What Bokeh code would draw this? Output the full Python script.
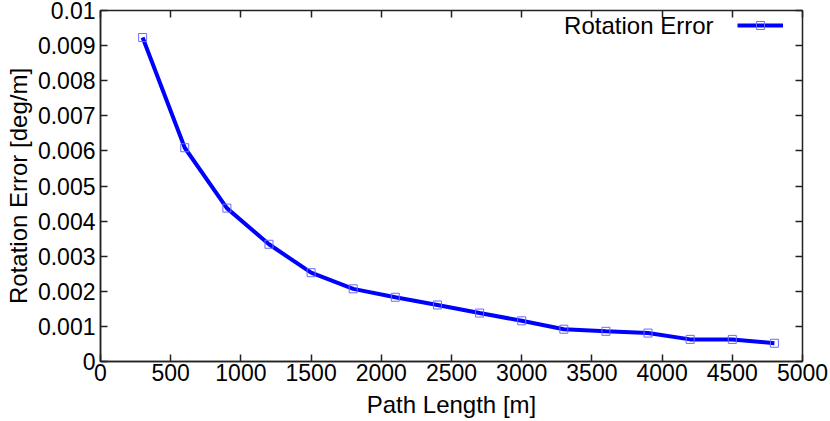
from bokeh.plotting import figure
from bokeh.models import (FixedTicker, CustomJSTickFormatter, LinearAxis, Legend,
                          LegendItem, Label, Range1d)
from bokeh.embed import file_html
from bokeh.resources import INLINE

path_length = [300, 600, 900, 1200, 1500, 1800, 2100, 2400, 2700, 3000,
               3300, 3600, 3900, 4200, 4500, 4800]
rotation_error = [0.00923, 0.00609, 0.00437, 0.00334, 0.00253, 0.00207, 0.00183,
                  0.00161, 0.00138, 0.00116, 0.00092, 0.00086, 0.00081, 0.00063,
                  0.00063, 0.00052]
x_ticks = [0, 500, 1000, 1500, 2000, 2500, 3000, 3500, 4000, 4500, 5000]
y_ticks = [0, 0.001, 0.002, 0.003, 0.004, 0.005, 0.006, 0.007, 0.008, 0.009, 0.01]
series_name = "Rotation Error"
x_label = "Path Length [m]"
y_label = "Rotation Error [deg/m]"

FONT = "Liberation Sans"
FS_TICK = "23px"
FS_LABEL = "24px"

p = figure(width=830, height=421, output_backend="svg", toolbar_location=None,
           x_range=Range1d(0, 5000), y_range=Range1d(0, 0.01),
           min_border_left=100, min_border_right=28, min_border_top=10,
           min_border_bottom=60)
p.background_fill_color = "white"
p.border_fill_color = "white"
p.outline_line_color = "#222222"
p.outline_line_width = 1.5
p.xgrid.visible = False
p.ygrid.visible = False

fmt_y = CustomJSTickFormatter(code="return String(Number(tick.toFixed(3)));")
fmt_blank = CustomJSTickFormatter(code="return '';")

for ax in p.xaxis:
    ax.ticker = FixedTicker(ticks=x_ticks)
    ax.axis_label = x_label
for ax in p.yaxis:
    ax.ticker = FixedTicker(ticks=y_ticks)
    ax.formatter = fmt_y
    ax.axis_label = y_label

for ax in list(p.xaxis) + list(p.yaxis):
    ax.major_tick_in = 7
    ax.major_tick_out = 0
    ax.minor_tick_line_color = None
    ax.axis_line_color = "#222222"
    ax.axis_line_width = 1.5
    ax.major_tick_line_color = "#222222"
    ax.major_tick_line_width = 1.5
    ax.major_label_text_font = FONT
    ax.major_label_text_font_size = FS_TICK
    ax.major_label_text_color = "black"
    ax.axis_label_text_font = FONT
    ax.axis_label_text_font_size = FS_LABEL
    ax.axis_label_text_font_style = "normal"
    ax.axis_label_text_color = "black"

p.xaxis.major_label_standoff = 2
p.yaxis.major_label_standoff = 5
p.xaxis.axis_label_standoff = 7
p.yaxis.axis_label_standoff = 3

top_ax = LinearAxis(ticker=FixedTicker(ticks=x_ticks), formatter=fmt_blank,
                    major_tick_in=7, major_tick_out=0, minor_tick_line_color=None,
                    axis_line_color=None, major_tick_line_color="#222222",
                    major_tick_line_width=1.5, major_label_standoff=0)
right_ax = LinearAxis(ticker=FixedTicker(ticks=y_ticks), formatter=fmt_blank,
                      major_tick_in=7, major_tick_out=0, minor_tick_line_color=None,
                      axis_line_color=None, major_tick_line_color="#222222",
                      major_tick_line_width=1.5, major_label_standoff=0)
p.add_layout(top_ax, "above")
p.add_layout(right_ax, "right")

ln = p.line(path_length, rotation_error, line_color="#0000ff", line_width=4)
sc = p.scatter(path_length, rotation_error, marker="square", size=8,
               fill_color=None, line_color="#6a6aff", line_width=1)

legend = Legend(items=[LegendItem(label=" ", renderers=[ln, sc])],
                location=(637, 326), padding=0, margin=0, spacing=0,
                glyph_width=46, glyph_height=20, label_width=0, label_standoff=0,
                label_text_font_size="1px", border_line_color=None,
                background_fill_alpha=0)
p.add_layout(legend, "center")

p.add_layout(Label(x=613, y=336, x_units="screen", y_units="screen", text=series_name,
                   text_align="right", text_baseline="middle", text_font=FONT,
                   text_font_size=FS_LABEL, text_color="black"))

open("out.html", "w").write(file_html(p, INLINE))
